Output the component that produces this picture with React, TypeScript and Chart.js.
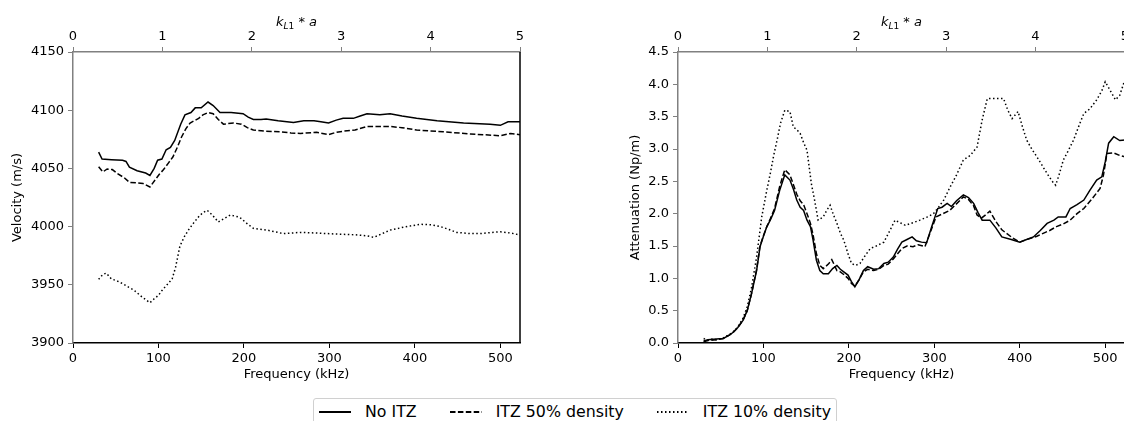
import React, { useEffect, useRef } from "react";
import { Chart, registerables } from "chart.js";
Chart.register(...registerables);

const FONT = "'DejaVu Sans', sans-serif";

// ---------- Velocity (left panel) ----------
const velFreqNoItz = [30, 34, 45, 58, 62, 66, 75, 85, 90, 95, 99, 104, 109, 114, 119, 126, 131, 138, 143, 150, 158, 164, 172, 185, 199, 205, 211, 220, 226, 240, 258, 270, 282, 290, 299, 308, 316, 328, 336, 344, 359, 371, 385, 402, 426, 457, 488, 500, 509, 523];
const velNoItz = [4064, 4058, 4057.5, 4057, 4056, 4051, 4048, 4046, 4044, 4050, 4057, 4058, 4066, 4068, 4074, 4088, 4096, 4098, 4102, 4102, 4107, 4104, 4098, 4098, 4097, 4094, 4092, 4092, 4092.5, 4091, 4089.5, 4091, 4091, 4090, 4089, 4091.5, 4093, 4093, 4095, 4097, 4096, 4097, 4095, 4093, 4091, 4089, 4088, 4087, 4090, 4090];

const velFreqItz50 = [30, 35, 40, 46, 52, 60, 66, 75, 82, 90, 96, 101, 106, 112, 117, 122, 127, 132, 137, 147, 152, 158, 164, 170, 176, 188, 197, 204, 211, 226, 242, 255, 266, 285, 292, 299, 308, 317, 330, 344, 371, 385, 402, 433, 465, 490, 500, 512, 523];
const velItz50 = [4051.5, 4047, 4049.5, 4049, 4045.5, 4042, 4038, 4037.5, 4037, 4034, 4040, 4045, 4049, 4055, 4060, 4068, 4077, 4084, 4089, 4093, 4096, 4098, 4097, 4092, 4088, 4089, 4088, 4085, 4083, 4082, 4081.5, 4080.5, 4080, 4081, 4080, 4079, 4081, 4082, 4083, 4086, 4086, 4085, 4083, 4081.5, 4079.6, 4078.5, 4078, 4080, 4079];

const velFreqItz10 = [30, 35, 39, 45, 51, 58, 65, 71, 80, 90, 95, 100, 105, 110, 116, 120, 125, 130, 135, 141, 147, 152, 157, 163, 170, 177, 184, 195, 203, 211, 227, 246, 266, 285, 305, 330, 344, 352, 362, 371, 387, 406, 420, 430, 440, 449, 465, 477, 490, 500, 512, 523];
const velItz10 = [3954.7, 3959, 3960, 3955, 3953.5, 3951, 3948, 3945.6, 3940, 3934.6, 3938, 3941, 3946, 3950, 3955, 3965, 3983, 3991, 3997, 4003, 4008.5, 4012, 4014, 4010, 4004, 4007, 4010, 4008, 4003, 3998.5, 3997, 3994, 3995, 3994.5, 3993.7, 3993, 3992, 3990.8, 3994, 3997, 3999.5, 4002, 4001.5, 4000, 3997.5, 3995, 3994, 3994, 3995, 3995.6, 3994.5, 3992.8];

// ---------- Attenuation (right panel) ----------
const attFreqNoItz = [30, 35, 45, 53, 60, 65, 70, 76, 81, 86, 92, 96, 100, 104, 108, 113, 119, 125, 131, 135, 139, 143, 147, 151, 155, 158, 162, 166, 170, 176, 181, 186, 190, 194, 199, 203, 207, 212, 217, 222, 229, 235, 241, 246, 252, 257, 262, 268, 274, 279, 285, 291, 297, 304, 309, 315, 320, 326, 334, 340, 346, 351, 356, 365, 372, 379, 390, 400, 408, 416, 424, 432, 440, 445, 454, 459, 467, 475, 482, 490, 496, 500, 504, 510, 517, 523];
const attNoItz = [0.03, 0.05, 0.06, 0.07, 0.12, 0.17, 0.24, 0.35, 0.5, 0.76, 1.12, 1.49, 1.65, 1.8, 1.9, 2.05, 2.36, 2.6, 2.52, 2.38, 2.21, 2.1, 2.05, 1.9, 1.8, 1.6, 1.28, 1.12, 1.07, 1.07, 1.15, 1.2, 1.14, 1.1, 1.05, 0.95, 0.87, 0.98, 1.12, 1.18, 1.14, 1.15, 1.23, 1.25, 1.33, 1.45, 1.56, 1.6, 1.64, 1.58, 1.56, 1.55, 1.8, 2.08, 2.1, 2.16, 2.11, 2.2, 2.29, 2.25, 2.16, 2.02, 1.9, 1.9, 1.78, 1.64, 1.6, 1.56, 1.6, 1.64, 1.74, 1.85, 1.9, 1.95, 1.95, 2.08, 2.14, 2.21, 2.36, 2.52, 2.57, 2.8, 3.09, 3.19, 3.13, 3.14];

const attFreqItz50 = [30, 35, 45, 53, 60, 65, 70, 76, 81, 86, 92, 96, 100, 104, 108, 113, 119, 125, 131, 135, 139, 143, 147, 151, 155, 158, 162, 166, 170, 176, 180, 186, 190, 194, 199, 203, 207, 212, 217, 222, 229, 235, 241, 246, 252, 257, 262, 268, 275, 281, 289, 295, 302, 310, 318, 325, 334, 340, 346, 350, 355, 360, 365, 372, 379, 385, 392, 400, 408, 420, 428, 435, 443, 451, 459, 467, 475, 484, 494, 498, 502, 510, 517, 523];
const attItz50 = [0.02, 0.04, 0.05, 0.07, 0.12, 0.17, 0.24, 0.35, 0.5, 0.76, 1.14, 1.5, 1.66, 1.8, 1.92, 2.08, 2.42, 2.68, 2.6, 2.45, 2.3, 2.2, 2.14, 2.0, 1.85, 1.68, 1.38, 1.2, 1.15, 1.22, 1.29, 1.12, 1.1, 1.06, 1.0, 0.92, 0.88, 0.98, 1.1, 1.14, 1.12, 1.14, 1.2, 1.22, 1.3, 1.38, 1.46, 1.5, 1.49, 1.52, 1.49, 1.7, 1.95, 2.0, 2.05, 2.14, 2.26, 2.22, 2.12, 1.98, 1.93, 1.98, 2.04, 1.88, 1.75, 1.69, 1.62, 1.56, 1.6, 1.65, 1.7, 1.74, 1.8, 1.84, 1.9, 2.0, 2.08, 2.22, 2.39, 2.6, 2.93, 2.94, 2.9, 2.88];

const attFreqItz10 = [30, 35, 40, 45, 53, 60, 65, 70, 76, 81, 86, 92, 98, 103, 108, 112, 116, 120, 125, 131, 135, 139, 143, 147, 151, 156, 160, 164, 170, 174, 178, 182, 186, 190, 194, 199, 203, 208, 213, 219, 225, 232, 241, 248, 254, 260, 266, 275, 283, 292, 299, 305, 311, 318, 326, 334, 342, 350, 356, 362, 372, 381, 386, 391, 398, 403, 408, 414, 420, 426, 432, 438, 442, 446, 451, 457, 463, 469, 475, 482, 490, 496, 500, 506, 512, 517, 523];
const attItz10 = [0.07, 0.04, 0.06, 0.05, 0.08, 0.13, 0.18, 0.25, 0.38, 0.56, 0.85, 1.33, 1.95, 2.3, 2.62, 2.9, 3.14, 3.4, 3.6, 3.58, 3.34, 3.3, 3.24, 3.1, 2.98, 2.47, 2.2, 1.9, 1.95, 2.05, 2.13, 1.98, 1.85, 1.7, 1.59, 1.38, 1.23, 1.2, 1.23, 1.35, 1.46, 1.5, 1.56, 1.74, 1.9, 1.86, 1.82, 1.86, 1.9, 1.95, 2.0, 2.1, 2.21, 2.4, 2.6, 2.83, 2.9, 3.03, 3.45, 3.78, 3.78, 3.78, 3.6, 3.47, 3.58, 3.35, 3.14, 3.0, 2.88, 2.75, 2.62, 2.5, 2.44, 2.6, 2.83, 2.98, 3.14, 3.35, 3.55, 3.62, 3.76, 3.9, 4.04, 3.9, 3.76, 3.83, 4.07];

// ---------- Axes / labels ----------
const seriesLabels = ["No ITZ", "ITZ 50% density", "ITZ 10% density"];
const seriesDashes: number[][] = [[], [5.5, 2.4], [1.5, 2.5]];
const freqMin = 0;
const freqMax = 523;
const freqTicks = [0, 100, 200, 300, 400, 500];
const kaMin = 0;
const kaMax = 5;
const kaTicks = [0, 1, 2, 3, 4, 5];
const velMin = 3900;
const velMax = 4150;
const velTicks = [3900, 3950, 4000, 4050, 4100, 4150];
const attMin = 0;
const attMax = 4.5;
const attTicks = [0, 0.5, 1, 1.5, 2, 2.5, 3, 3.5, 4, 4.5];

const toXY = (xs: number[], ys: number[]) => xs.map((x, i) => ({ x, y: ys[i] }));
const setTicks = (vals: number[]) => (s: any) => {
  s.ticks = vals.map((v) => ({ value: v }));
};

const topTitlePlugin = {
  id: "topTitle",
  afterDraw(chart: any) {
    const { ctx, chartArea } = chart;
    const parts = [
      { t: "k", font: `italic 13px ${FONT}`, dy: 0 },
      { t: "L", font: `italic 9px ${FONT}`, dy: 3 },
      { t: "1", font: `9px ${FONT}`, dy: 3 },
      { t: " * ", font: `13px ${FONT}`, dy: 0 },
      { t: "a", font: `italic 13px ${FONT}`, dy: 0 },
    ];
    ctx.save();
    let w = 0;
    for (const p of parts) {
      ctx.font = p.font;
      w += ctx.measureText(p.t).width;
    }
    let x = (chartArea.left + chartArea.right) / 2 - w / 2;
    const y = 26;
    ctx.fillStyle = "#000";
    ctx.textBaseline = "alphabetic";
    ctx.textAlign = "left";
    for (const p of parts) {
      ctx.font = p.font;
      ctx.fillText(p.t, x, y + p.dy);
      x += ctx.measureText(p.t).width;
    }
    // right spine
    ctx.strokeStyle = "#000";
    ctx.lineWidth = 1.5;
    ctx.beginPath();
    ctx.moveTo(chartArea.right, chartArea.top);
    ctx.lineTo(chartArea.right, chartArea.bottom);
    ctx.stroke();
    ctx.restore();
  },
};

function makeConfig(opts: {
  data: { xs: number[]; ys: number[] }[];
  yMin: number;
  yMax: number;
  yTicks: number[];
  yTitle: string;
  yTitlePad: number;
  yWidth: number;
  padRight: number;
  canvasH: number;
  yFmt: (v: number) => string;
}) {
  const tickFont = { family: FONT, size: 13 };
  return {
    type: "line",
    data: {
      datasets: opts.data.map((d, i) => ({
        label: seriesLabels[i],
        data: toXY(d.xs, d.ys),
        borderColor: "#000",
        backgroundColor: "#000",
        borderWidth: 1.5,
        borderDash: seriesDashes[i],
        borderCapStyle: "butt",
        pointRadius: 0,
        tension: 0,
        fill: false,
      })),
    },
    options: {
      animation: false,
      responsive: false,
      maintainAspectRatio: false,
      layout: { padding: { left: 0, right: opts.padRight, top: 0, bottom: 0 } },
      plugins: { legend: { display: false }, tooltip: { enabled: false } },
      scales: {
        x: {
          type: "linear",
          position: "bottom",
          min: freqMin,
          max: freqMax,
          ticks: { color: "#000", font: tickFont, padding: 3, maxRotation: 0, autoSkip: false },
          afterBuildTicks: setTicks(freqTicks),
          afterFit: (s: any) => {
            s.height = opts.canvasH - 343;
          },
          grid: { drawOnChartArea: false, drawTicks: true, tickLength: 5, tickColor: "#000", tickWidth: 1 },
          border: { display: true, color: "#000", width: 1.5 },
          title: {
            display: true,
            text: "Frequency (kHz)",
            color: "#000",
            font: { family: FONT, size: 13 },
            padding: { top: 0, bottom: 18 },
          },
        },
        x2: {
          type: "linear",
          axis: "x",
          position: "top",
          min: kaMin,
          max: kaMax,
          ticks: { color: "#000", font: tickFont, padding: 3, maxRotation: 0, autoSkip: false },
          afterBuildTicks: setTicks(kaTicks),
          afterFit: (s: any) => {
            s.height = 52;
          },
          grid: { drawOnChartArea: false, drawTicks: true, tickLength: 5, tickColor: "#808080", tickWidth: 1 },
          border: { display: true, color: "#808080", width: 1.5 },
        },
        y: {
          type: "linear",
          position: "left",
          min: opts.yMin,
          max: opts.yMax,
          ticks: {
            color: "#000",
            font: tickFont,
            padding: 4,
            autoSkip: false,
            callback: (v: any) => opts.yFmt(Number(v)),
          },
          afterBuildTicks: setTicks(opts.yTicks),
          afterFit: (s: any) => {
            s.width = opts.yWidth;
          },
          grid: { drawOnChartArea: false, drawTicks: true, tickLength: 5, tickColor: "#808080", tickWidth: 1 },
          border: { display: true, color: "#808080", width: 1.5 },
          title: {
            display: true,
            text: opts.yTitle,
            color: "#000",
            font: { family: FONT, size: 13 },
            padding: { top: opts.yTitlePad, bottom: 0 },
          },
        },
      },
    },
    plugins: [topTitlePlugin],
  } as any;
}

function ChartPanel(props: { left: number; width: number; height: number; config: any }) {
  const ref = useRef<HTMLCanvasElement | null>(null);
  useEffect(() => {
    if (!ref.current) return;
    const chart = new Chart(ref.current, props.config);
    return () => chart.destroy();
  }, []);
  return (
    <canvas
      ref={ref}
      width={props.width}
      height={props.height}
      style={{ position: "absolute", left: props.left, top: 0, width: props.width, height: props.height }}
    />
  );
}

export default function App() {
  const canvasH = 400;
  const leftConfig = makeConfig({
    data: [
      { xs: velFreqNoItz, ys: velNoItz },
      { xs: velFreqItz50, ys: velItz50 },
      { xs: velFreqItz10, ys: velItz10 },
    ],
    yMin: velMin,
    yMax: velMax,
    yTicks: velTicks,
    yTitle: "Velocity (m/s)",
    yTitlePad: 10,
    yWidth: 73,
    padRight: 42,
    canvasH,
    yFmt: (v) => String(Math.round(v)),
  });
  const rightConfig = makeConfig({
    data: [
      { xs: attFreqNoItz, ys: attNoItz },
      { xs: attFreqItz50, ys: attItz50 },
      { xs: attFreqItz10, ys: attItz10 },
    ],
    yMin: attMin,
    yMax: attMax,
    yTicks: attTicks,
    yTitle: "Attenuation (Np/m)",
    yTitlePad: 66,
    yWidth: 116,
    padRight: 7,
    canvasH,
    yFmt: (v) => v.toFixed(1),
  });

  return (
    <div
      style={{
        position: "fixed",
        left: 0,
        top: 0,
        width: 1124,
        height: 421,
        overflow: "hidden",
        background: "#fff",
      }}
    >
      <ChartPanel left={0} width={562} height={canvasH} config={leftConfig} />
      <ChartPanel left={562} width={570} height={canvasH} config={rightConfig} />
      <div
        style={{
          position: "absolute",
          left: 313,
          top: 398,
          border: "1px solid #d0d0d0",
          borderRadius: 3,
          background: "#fff",
          display: "flex",
          alignItems: "center",
          padding: "3px 5px 12px 5px",
          fontFamily: FONT,
          fontSize: 15.8,
          color: "#000",
          whiteSpace: "nowrap",
        }}
      >
        {seriesLabels.map((label, i) => (
          <div key={label} style={{ display: "flex", alignItems: "center", marginRight: i < 2 ? 33 : 0 }}>
            <svg width={32} height={18} style={{ display: "block" }}>
              <line
                x1={0}
                y1={9}
                x2={32}
                y2={9}
                stroke="#000"
                strokeWidth={2}
                strokeDasharray={seriesDashes[i].length ? seriesDashes[i].join(" ") : undefined}
              />
            </svg>
            <span style={{ marginLeft: 14 }}>{label}</span>
          </div>
        ))}
      </div>
    </div>
  );
}
